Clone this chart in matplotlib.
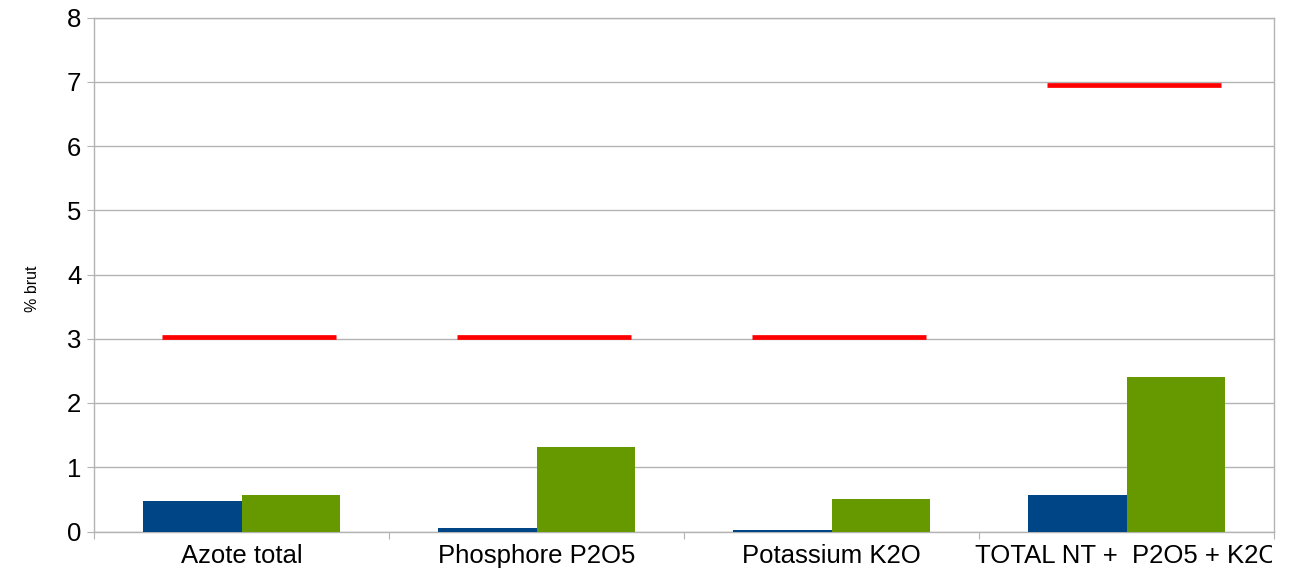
import numpy as np
import matplotlib.pyplot as plt
from matplotlib.transforms import Bbox

plt.rcParams['font.family'] = ['Liberation Sans', 'DejaVu Sans']

categories = ["Azote total", "Phosphore P2O5", "Potassium K2O", "TOTAL NT +  P2O5 + K2O"]
series_blue = [0.48, 0.06, 0.03, 0.57]
series_green = [0.57, 1.32, 0.51, 2.40]
seuil_rouge = [3.03, 3.03, 3.03, 6.95]

GRID = "#b3b3b3"

fig = plt.figure(figsize=(12.97, 5.68), dpi=100)
ax = fig.add_axes([94 / 1297, 36.5 / 568, 1180 / 1297, 514 / 568])

x = np.arange(len(categories))
w = 1 / 3

ax.bar(x - w / 2, series_blue, width=w, color="#004586", zorder=3)
ax.bar(x + w / 2, series_green, width=w, color="#669900", zorder=3)
ax.hlines(seuil_rouge, x - 0.27, x + 0.32, color="#ff0000", linewidth=3.4, zorder=4)

ax.set_xlim(-0.5, len(categories) - 0.5)
ax.set_ylim(0, 8)
ax.set_yticks(range(0, 9))
ax.yaxis.grid(True, color=GRID, linewidth=1)
ax.set_axisbelow(True)

# category boundaries get ticks, labels sit at the centres
ax.set_xticks(np.arange(-0.5, len(categories)), labels=[])
ax.set_xticks(x, labels=categories, minor=True)
ax.tick_params(axis="x", which="major", length=5, color=GRID, direction="out")
ax.tick_params(axis="x", which="minor", length=0, pad=9, labelsize=18.5)
ax.tick_params(axis="y", length=5, color=GRID, pad=4, labelsize=18.5)

# the long last label gets cut at the right wall
clip = Bbox([[0, 0], [1272, 568]])
for lab in ax.get_xticklabels(minor=True):
    lab.set_clip_on(True)
    lab.set_clip_box(clip)

for side in ["left", "bottom", "right", "top"]:
    ax.spines[side].set_color(GRID)
    ax.spines[side].set_linewidth(1)

ax.set_ylabel("% brut", fontsize=11.5)
ax.yaxis.set_label_coords(-0.0455, 0.473)

fig.savefig("out.png", dpi=100)
